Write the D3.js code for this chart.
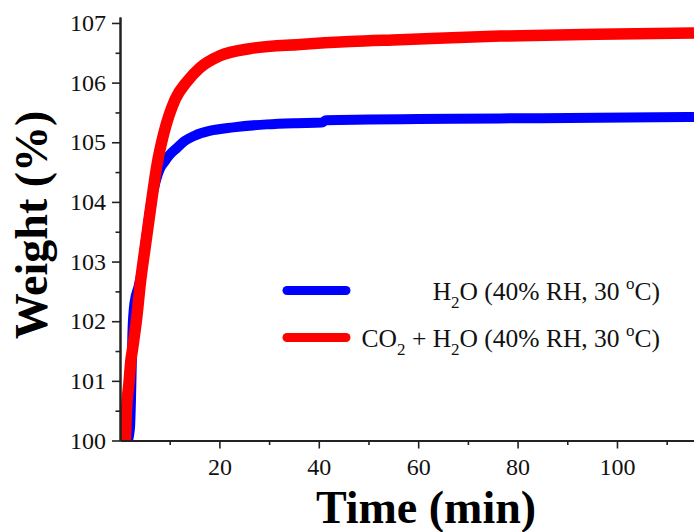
<!DOCTYPE html>
<html>
<head>
<meta charset="utf-8">
<script src="https://cdn.jsdelivr.net/npm/d3@7"></script>
<style>
html,body{margin:0;padding:0;background:#fff;}
svg{display:block;}
</style>
</head>
<body>
<svg id="chart" width="694" height="532"></svg>
<script>
// ---- data ----
const seriesNames = ["H2O (40% RH, 30 oC)", "CO2 + H2O (40% RH, 30 oC)"];
const seriesColors = ["#0000ff", "#ff0000"];

// H2O only: [time (min), weight (%)]
const h2oTime   = [0.1, 1.5, 2.0, 2.3, 2.5, 2.9, 3.8, 4.5, 5.1, 5.75, 6.4, 7.2, 8.0, 9.0, 10.0, 11.4, 13.0, 15.0, 18.0, 22.8, 29.5, 35.0, 40.6, 41.5, 50.0, 60.0, 76.5, 96.0, 115.5];
const h2oWeight = [100.0, 100.0, 100.2, 101.0, 101.8, 102.3, 102.6, 102.9, 103.3, 103.7, 104.05, 104.35, 104.55, 104.68, 104.79, 104.9, 105.02, 105.11, 105.19, 105.25, 105.30, 105.32, 105.33, 105.37, 105.38, 105.39, 105.40, 105.41, 105.425];

// CO2 + H2O: [time (min), weight (%)]
const co2Time   = [1.07, 1.3, 1.8, 2.2, 2.5, 3.4, 4.1, 5.0, 5.5, 6.4, 7.4, 8.85, 11.1, 13.5, 16.1, 20.1, 26.2, 36.2, 46.3, 56.3, 76.5, 96.0, 115.5];
const co2Weight = [100.0, 100.5, 100.96, 101.35, 101.52, 102.08, 102.64, 103.2, 103.5, 104.04, 104.6, 105.16, 105.72, 106.02, 106.25, 106.45, 106.57, 106.64, 106.69, 106.72, 106.78, 106.81, 106.83];

const xMajorTicks = [20, 40, 60, 80, 100];
const xMinorTicks = [10, 30, 50, 70, 90, 110];
const yMajorTicks = [100, 101, 102, 103, 104, 105, 106, 107];
const yMinorTicks = [100.5, 101.5, 102.5, 103.5, 104.5, 105.5, 106.5];

const xTitle = "Time (min)";
const yTitle = "Weight (%)";

// ---- drawing ----
const svg = d3.select("#chart");
const x = d3.scaleLinear().domain([0, 115.5]).range([120, 694]);
const y = d3.scaleLinear().domain([100, 107.1]).range([440.5, 17]);

const font = "'Liberation Serif', 'Times New Roman', serif";
const axisColor = "#222";

// lines
const series = [
  {t: h2oTime, w: h2oWeight, color: seriesColors[0], width: 10},
  {t: co2Time, w: co2Weight, color: seriesColors[1], width: 11.5}
];
const line = d3.line().x(d => x(d[0])).y(d => y(d[1])).curve(d3.curveMonotoneX);
svg.append("defs").append("clipPath").attr("id", "clip")
  .append("rect").attr("x", 120).attr("y", 0).attr("width", 574).attr("height", 441);
const lg = svg.append("g").attr("clip-path", "url(#clip)");
series.forEach(s => {
  const pts = s.t.map((t, i) => [t, s.w[i]]);
  lg.append("path").datum(pts)
    .attr("d", line)
    .attr("fill", "none")
    .attr("stroke", s.color)
    .attr("stroke-width", s.width)
    .attr("stroke-linejoin", "round");
});

// x axis
const xAxisG = svg.append("g").attr("transform", `translate(0,${y(100)})`);
xAxisG.call(d3.axisBottom(x).tickValues(xMajorTicks).tickSize(8).tickPadding(9).tickSizeOuter(0));
xAxisG.append("g").call(d3.axisBottom(x).tickValues(xMinorTicks).tickSize(4.5).tickFormat("").tickSizeOuter(0));
xAxisG.selectAll("path.domain").attr("stroke", axisColor).attr("stroke-width", 2);
xAxisG.selectAll(".tick line").attr("stroke", axisColor).attr("stroke-width", 1.6);
xAxisG.selectAll(".tick text").attr("font-family", font).attr("font-size", 24).attr("fill", "#111");

// y axis
const yAxisG = svg.append("g").attr("transform", `translate(${x(0)},0)`);
yAxisG.call(d3.axisLeft(y).tickValues(yMajorTicks).tickSize(8).tickPadding(6).tickSizeOuter(0).tickFormat(d3.format("d")));
yAxisG.append("g").call(d3.axisLeft(y).tickValues(yMinorTicks).tickSize(4.5).tickFormat("").tickSizeOuter(0));
yAxisG.selectAll("path.domain").attr("stroke", axisColor).attr("stroke-width", 2);
yAxisG.selectAll(".tick line").attr("stroke", axisColor).attr("stroke-width", 1.6);
yAxisG.selectAll(".tick text").attr("font-family", font).attr("font-size", 24).attr("fill", "#111");

// axis titles
svg.append("text").attr("x", 426).attr("y", 523)
  .attr("text-anchor", "middle").attr("font-family", font).attr("font-weight", "bold")
  .attr("font-size", 46).attr("fill", "#000").text(xTitle);
svg.append("text").attr("transform", "translate(47,225) rotate(-90)")
  .attr("text-anchor", "middle").attr("font-family", font).attr("font-weight", "bold")
  .attr("font-size", 46).attr("fill", "#000").text(yTitle);

// legend
function richLabel(sel, str) {
  // render "2" after C/H as subscript and "o" before "C)" as superscript
  const parts = [];
  const re = /(O2|H2)|( o(?=C))/g;
  let last = 0, m;
  while ((m = re.exec(str)) !== null) {
    if (m[1]) {
      parts.push({t: str.slice(last, m.index) + m[1][0], k: "n"});
      parts.push({t: "2", k: "sub"});
    } else {
      parts.push({t: str.slice(last, m.index) + " ", k: "n"});
      parts.push({t: "o", k: "sup"});
    }
    last = m.index + m[0].length;
  }
  parts.push({t: str.slice(last), k: "n"});
  let shift = 0;
  parts.forEach(p => {
    const ts = sel.append("tspan").text(p.t);
    let target = p.k === "sub" ? 8 : p.k === "sup" ? -11 : 0;
    if (target !== shift) { ts.attr("dy", target - shift); shift = target; }
    if (p.k !== "n") ts.attr("font-size", 17);
  });
}
const legendY = [290.5, 337.5];
seriesNames.forEach((name, i) => {
  svg.append("line").attr("x1", 287).attr("x2", 346)
    .attr("y1", legendY[i]).attr("y2", legendY[i])
    .attr("stroke", seriesColors[i]).attr("stroke-width", 9).attr("stroke-linecap", "round");
  const t = svg.append("text").attr("x", 660).attr("y", legendY[i] + 9.5)
    .attr("text-anchor", "end").attr("font-family", font).attr("font-size", 25.5).attr("fill", "#111");
  richLabel(t, name);
});
</script>
</body>
</html>
